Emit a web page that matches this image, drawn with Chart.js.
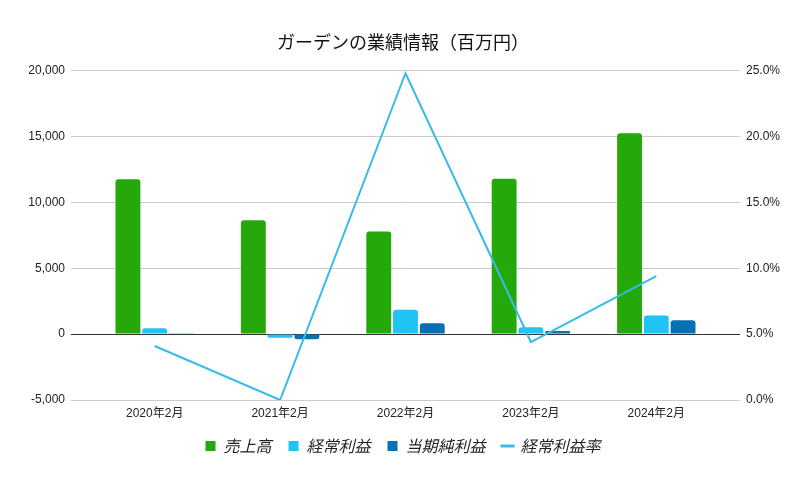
<!DOCTYPE html>
<html>
<head>
<meta charset="utf-8">
<script src="https://cdn.jsdelivr.net/npm/chart.js@4"></script>
<style>
  body { margin: 0; background: #fff; }
  #wrap { width: 806px; height: 479px; }
</style>
</head>
<body>
<div id="wrap"><canvas id="grafico"></canvas></div>
<script>
// datos del gráfico (百万円)
const periodos = ['2020年2月', '2021年2月', '2022年2月', '2023年2月', '2024年2月'];
const uriage = [11750, 8650, 7780, 11800, 15250];        // 売上高
const keijoRieki = [450, -280, 1850, 520, 1420];         // 経常利益
const junRieki = [20, -390, 830, 230, 1050];            // 当期純利益
const keijoRiekiRitsu = [4.1, 0.0, 24.8, 4.4, 9.4];      // 経常利益率 (%)
const ticksIzq = [-5000, 0, 5000, 10000, 15000, 20000];
const ticksDer = [0, 5, 10, 15, 20, 25];

const fuente = "'Liberation Sans', Arial, 'Noto Sans CJK JP', sans-serif";
const fuenteCJK = "'Noto Sans CJK JP', sans-serif";

const ctx = document.getElementById('grafico').getContext('2d');
new Chart(ctx, {
    data: {
        labels: periodos,
        datasets: [
            { type: 'bar', label: '売上高', data: uriage, backgroundColor: '#25a80a', yAxisID: 'y', order: 1,
              borderRadius: 3, barPercentage: 0.93, categoryPercentage: 0.64 },
            { type: 'bar', label: '経常利益', data: keijoRieki, backgroundColor: '#20c4f4', yAxisID: 'y', order: 1,
              borderRadius: 3, barPercentage: 0.93, categoryPercentage: 0.64 },
            { type: 'bar', label: '当期純利益', data: junRieki, backgroundColor: '#0672b5', yAxisID: 'y', order: 1,
              borderRadius: 3, barPercentage: 0.93, categoryPercentage: 0.64 },
            { type: 'line', label: '経常利益率', data: keijoRiekiRitsu, borderColor: '#38bbe6', backgroundColor: '#38bbe6',
              borderWidth: 2, pointRadius: 0, pointStyle: 'line', yAxisID: 'y1', order: 0, tension: 0 }
        ]
    },
    options: {
        responsive: true,
        maintainAspectRatio: false,
        animation: false,
        layout: { padding: { left: 0, right: 0, top: 0, bottom: 15 } },
        plugins: {
            title: {
                display: true,
                text: 'ガーデンの業績情報（百万円）',
                color: '#111',
                font: { family: fuenteCJK, size: 18, weight: 'normal' },
                padding: { top: 31, bottom: 18 }
            },
            legend: {
                position: 'bottom',
                labels: {
                    usePointStyle: true,
                    sort: (a, b) => a.datasetIndex - b.datasetIndex,
                    generateLabels: function(chart) {
                        const items = Chart.defaults.plugins.legend.labels.generateLabels(chart);
                        items.forEach(it => {
                            const ds = chart.data.datasets[it.datasetIndex];
                            it.pointStyle = ds.type === 'line' ? 'line' : 'rect';
                            it.lineWidth = ds.type === 'line' ? 3 : 0;
                            it.strokeStyle = ds.type === 'line' ? ds.borderColor : ds.backgroundColor;
                        });
                        return items;
                    },
                    boxWidth: 10,
                    boxHeight: 10,
                    padding: 17,
                    color: '#222',
                    font: { family: fuenteCJK, size: 16, style: 'italic' }
                }
            },
            tooltip: { enabled: false }
        },
        scales: {
            x: {
                grid: { display: false, drawTicks: false },
                border: { display: false },
                afterFit: s => { s.height = 21; },
                ticks: { color: '#222', font: { family: fuente, size: 12 }, padding: 6 }
            },
            y: {
                position: 'left',
                min: -5000,
                max: 20000,
                afterFit: s => { s.width = 92; },
                afterBuildTicks: s => { s.ticks = ticksIzq.map(v => ({ value: v })); },
                border: { display: false },
                grid: {
                    color: c => c.tick && c.tick.value === 0 ? '#333' : '#cccccc',
                    tickLength: 21,
                    lineWidth: 1
                },
                ticks: {
                    color: '#222',
                    padding: 6,
                    font: { family: fuente, size: 12 },
                    callback: v => v.toLocaleString('en-US')
                }
            },
            y1: {
                position: 'right',
                min: 0,
                max: 25,
                afterFit: s => { s.width = 87; },
                afterBuildTicks: s => { s.ticks = ticksDer.map(v => ({ value: v })); },
                border: { display: false },
                grid: {
                    drawOnChartArea: false,
                    color: c => c.tick && c.tick.value === 5 ? '#333' : '#cccccc',
                    tickLength: 21
                },
                ticks: {
                    color: '#222',
                    padding: 6,
                    font: { family: fuente, size: 12 },
                    callback: v => v.toFixed(1) + '%'
                }
            }
        }
    }
});
</script>
</body>
</html>
